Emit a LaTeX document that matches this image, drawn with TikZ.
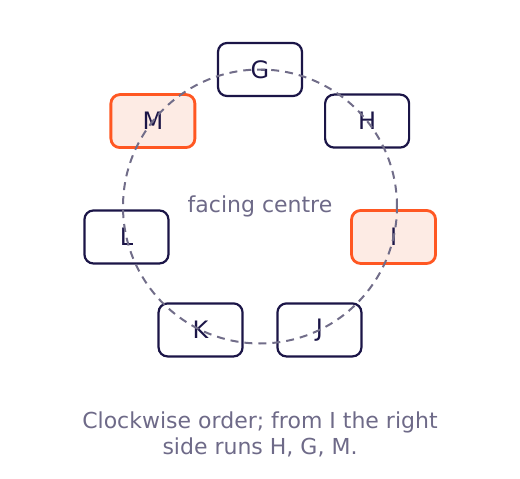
\documentclass[tikz,border=0pt]{standalone}
\usepackage{fontspec}
\setmainfont{DejaVu Sans}
\usetikzlibrary{calc}
\definecolor{navy}{HTML}{1B1547}
\definecolor{greytxt}{HTML}{6E6A88}
\definecolor{orng}{HTML}{FF5722}
\definecolor{orfill}{HTML}{FDEBE4}
\definecolor{dashcol}{HTML}{716D89}
\tikzset{
  seat/.style={draw=navy, line width=2.2pt, rounded corners=9pt, minimum width=84pt, minimum height=53pt, text=navy, font=\fontsize{24}{28}\selectfont, fill=white},
  hl/.style={draw=orng, fill=orfill, line width=2.8pt},
  lbl/.style={text=greytxt, font=\fontsize{22}{26}\selectfont, align=center}
}
\begin{document}
\begin{tikzpicture}[x=1pt,y=-1pt]
\useasboundingbox (0,0) rectangle (520,479);
\coordinate (c) at (260,206.5);
\foreach \n/\a/\s in {G/90/,H/38.571/,I/-12.857/hl,J/-64.286/,K/-115.714/,L/-167.143/,M/-218.571/hl}{
  \node[seat,\s] (\n) at ($(c)+(\a:137pt)$) {\n};
}
\draw[draw=dashcol, line width=2pt, dash pattern=on 8pt off 6pt] (c) circle[radius=137pt];
\node[lbl] (fc) at (260,206) {facing centre};
\node[lbl] (cap) at (260,434) {Clockwise order; from I the right\\side runs H, G, M.};
\end{tikzpicture}
\end{document}
